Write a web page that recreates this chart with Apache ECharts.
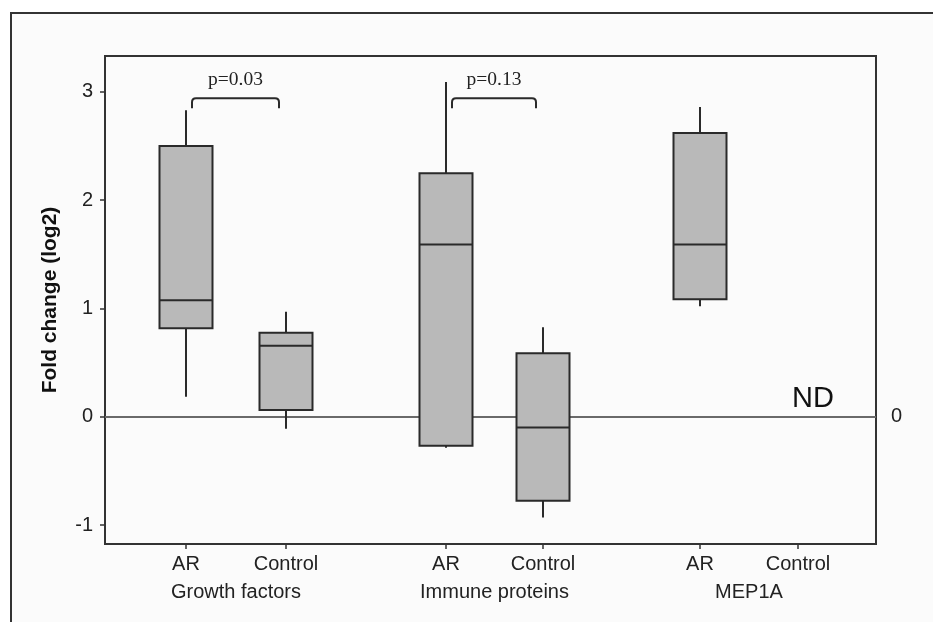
<!DOCTYPE html>
<html lang="en">
<head>
    <meta charset="utf-8">
    <title>Fold change boxplot</title>
    <script src="https://cdn.jsdelivr.net/npm/echarts@6/dist/echarts.min.js"></script>
</head>
<body style="margin:0;background:#fff;">
    <div id="main" style="width: 933px;height:622px;"></div>
    <script type="text/javascript">
        // data
        var groups = ['Growth factors', 'Immune proteins', 'MEP1A'];
        var conditions = ['AR', 'Control', 'AR', 'Control', 'AR', 'Control'];
        var positions = [1, 2, 3.6, 4.57, 6.14, 7.12];
        var whiskerLow  = [0.185, -0.11, -0.286, -0.93, 1.02, null];
        var q1          = [0.816, 0.062, -0.268, -0.776, 1.084, null];
        var median      = [1.075, 0.656, 1.59, -0.10, 1.59, null];
        var q3          = [2.50, 0.776, 2.247, 0.585, 2.62, null];
        var whiskerHigh = [2.83, 0.97, 3.09, 0.825, 2.86, null];
        var comparisons = [
            { from: 0, to: 1, level: 2.94, text: 'p=0.03' },
            { from: 2, to: 3, level: 2.94, text: 'p=0.13' }
        ];
        var yTicks = [-1, 0, 1, 2, 3];
        var rightTicks = [0];

        var groupCenters = groups.map(function (g, i) {
            return (positions[i * 2] + positions[i * 2 + 1]) / 2;
        });

        function nearest(list, v) {
            var best = 0;
            for (var i = 1; i < list.length; i++) {
                if (Math.abs(list[i] - v) < Math.abs(list[best] - v)) best = i;
            }
            return best;
        }

        var boxData = [];
        var ndData = [];
        positions.forEach(function (x, i) {
            if (median[i] == null) {
                ndData.push([x, 0]);
            } else {
                boxData.push([x, whiskerLow[i], q1[i], median[i], q3[i], whiskerHigh[i]]);
            }
        });

        var bracketData = comparisons.map(function (c) {
            return [positions[c.from], positions[c.to], c.level, c.text];
        });

        var font = "'Liberation Sans', Arial, sans-serif";
        var dark = '#2a2a2a';

        var myChart = echarts.init(document.getElementById('main'));

        var option = {
            animation: false,
            backgroundColor: '#ffffff',
            graphic: [{
                type: 'rect',
                left: 10,
                top: 12,
                z: -10,
                shape: { width: 960, height: 700 },
                style: { fill: '#fbfbfb', stroke: '#333', lineWidth: 2 }
            }],
            grid: {
                left: 105, top: 56, right: 57, bottom: 78,
                show: true, borderColor: '#333', borderWidth: 2,
                outerBoundsMode: 'none'
            },
            xAxis: [{
                type: 'value', min: 0.19, max: 7.9,
                axisLine: { show: true, onZero: false, lineStyle: { color: '#333', width: 2 } },
                axisTick: { show: true, customValues: positions, length: 5, lineStyle: { color: '#333', width: 1.5 } },
                axisLabel: {
                    customValues: positions, margin: 10,
                    fontFamily: font, fontSize: 20, color: '#222',
                    formatter: function (v) { return conditions[nearest(positions, v)]; }
                },
                splitLine: { show: false }
            }, {
                type: 'value', min: 0.19, max: 7.9, position: 'bottom',
                axisLine: { show: false, onZero: false }, axisTick: { show: false },
                axisLabel: {
                    customValues: groupCenters, margin: 38,
                    fontFamily: font, fontSize: 20, color: '#222',
                    formatter: function (v) { return groups[nearest(groupCenters, v)]; }
                },
                splitLine: { show: false }
            }],
            yAxis: [{
                type: 'value', min: -1.175, max: 3.33,
                name: 'Fold change (log2)', nameLocation: 'middle', nameGap: 44,
                nameTextStyle: { fontFamily: font, fontSize: 21, fontWeight: 'bold', color: '#111' },
                axisLine: { show: true, onZero: false, lineStyle: { color: '#333', width: 2 } },
                axisTick: { show: true, customValues: yTicks, length: 5, lineStyle: { color: '#333', width: 1.5 } },
                axisLabel: { customValues: yTicks, margin: 12, fontFamily: font, fontSize: 20, color: '#222' },
                splitLine: { show: false }
            }, {
                type: 'value', min: -1.175, max: 3.33, position: 'right',
                axisLine: { show: true, onZero: false, lineStyle: { color: '#333', width: 2 } },
                axisTick: { show: false },
                axisLabel: { customValues: rightTicks, margin: 15, fontFamily: font, fontSize: 20, color: '#222' },
                splitLine: { show: false }
            }],
            series: [{
                type: 'custom',
                name: 'boxes',
                z: 3,
                data: boxData,
                encode: { x: 0, y: [1, 2, 3, 4, 5] },
                renderItem: function (params, api) {
                    var x = api.value(0);
                    var lo = api.coord([x, api.value(1)]);
                    var b1 = api.coord([x, api.value(2)]);
                    var md = api.coord([x, api.value(3)]);
                    var b3 = api.coord([x, api.value(4)]);
                    var hi = api.coord([x, api.value(5)]);
                    var hw = api.size([0.53, 0])[0] / 2;
                    var ls = { stroke: dark, lineWidth: 2 };
                    return {
                        type: 'group',
                        children: [
                            { type: 'line', shape: { x1: lo[0], y1: lo[1], x2: b1[0], y2: b1[1] }, style: ls },
                            { type: 'line', shape: { x1: b3[0], y1: b3[1], x2: hi[0], y2: hi[1] }, style: ls },
                            { type: 'rect', shape: { x: b3[0] - hw, y: b3[1], width: hw * 2, height: b1[1] - b3[1] },
                              style: { fill: '#b9b9b9', stroke: dark, lineWidth: 2 } },
                            { type: 'line', shape: { x1: md[0] - hw, y1: md[1], x2: md[0] + hw, y2: md[1] }, style: ls }
                        ]
                    };
                },
                markLine: {
                    z: 1,
                    silent: true,
                    symbol: 'none',
                    label: { show: false },
                    lineStyle: { color: '#6a6a6a', width: 2, type: 'solid' },
                    data: [{ yAxis: 0 }]
                }
            }, {
                type: 'custom',
                name: 'brackets',
                z: 4,
                data: bracketData,
                encode: { x: [0, 1], y: 2 },
                renderItem: function (params, api) {
                    var a = api.coord([api.value(0), api.value(2)]);
                    var b = api.coord([api.value(1), api.value(2)]);
                    var x1 = a[0] + 6, x2 = b[0] - 7, y = a[1], drop = 10, r = 4;
                    var d = 'M' + x1 + ' ' + (y + drop) + ' L' + x1 + ' ' + (y + r) +
                        ' Q' + x1 + ' ' + y + ' ' + (x1 + r) + ' ' + y +
                        ' L' + (x2 - r) + ' ' + y +
                        ' Q' + x2 + ' ' + y + ' ' + x2 + ' ' + (y + r) +
                        ' L' + x2 + ' ' + (y + drop);
                    return {
                        type: 'group',
                        children: [
                            { type: 'path', shape: { pathData: d }, style: { fill: 'none', stroke: dark, lineWidth: 2 } },
                            { type: 'text', x: (x1 + x2) / 2, y: y - 18,
                              style: { text: api.value(3), fill: '#222', align: 'center', verticalAlign: 'middle',
                                       font: "19.5px 'Liberation Serif', 'Times New Roman', serif" } }
                        ]
                    };
                }
            }, {
                type: 'custom',
                name: 'not detected',
                z: 4,
                data: ndData,
                encode: { x: 0, y: 1 },
                renderItem: function (params, api) {
                    var p = api.coord([api.value(0), api.value(1)]);
                    return {
                        type: 'text', x: p[0] + 15, y: p[1] - 18,
                        style: { text: 'ND', fill: '#111', align: 'center', verticalAlign: 'middle',
                                 font: "29px 'Liberation Sans', Arial, sans-serif" }
                    };
                }
            }]
        };

        myChart.setOption(option);
    </script>
</body>
</html>
